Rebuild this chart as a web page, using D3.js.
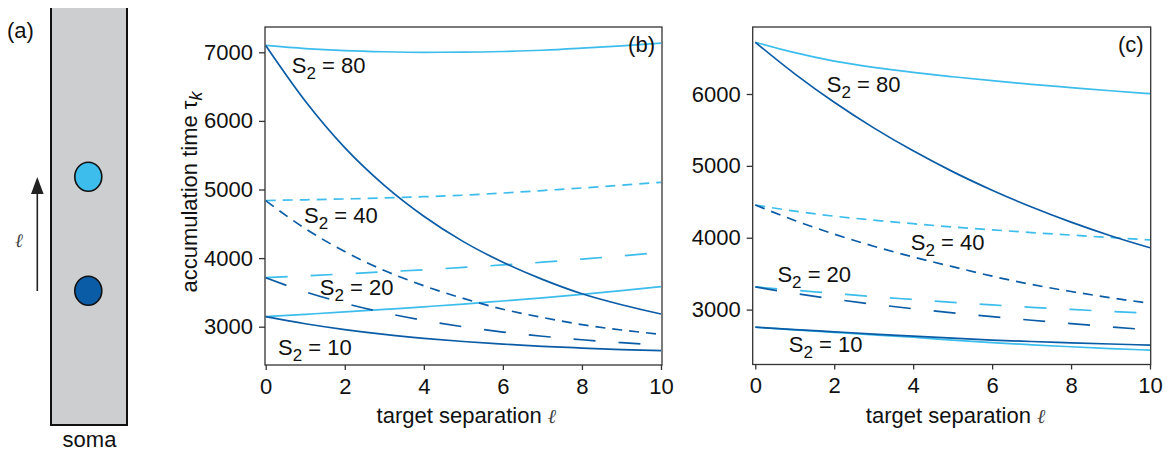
<!DOCTYPE html>
<html>
<head>
<meta charset="utf-8">
<script src="https://cdn.jsdelivr.net/npm/d3@7"></script>
<style>
  body { margin: 0; background: #fff; }
  text { font-family: "Liberation Sans", Arial, Helvetica, sans-serif; fill: #111; }
</style>
</head>
<body>
<svg id="fig" width="1165" height="451"></svg>
<script>
// target separation (x values shared by every curve)
const ells = [0, 1, 2, 3, 4, 5, 6, 7, 8, 9, 10];

// panel (b) accumulation time, light = far target, dark = near target
const b80Light = [7100, 7055, 7025, 7008, 7000, 7002, 7012, 7030, 7060, 7095, 7135];
const b80Dark  = [7100, 6290, 5610, 5060, 4610, 4240, 3940, 3690, 3480, 3320, 3185];
const b40Light = [4840, 4850, 4862, 4877, 4895, 4917, 4948, 4985, 5022, 5062, 5105];
const b40Dark  = [4837, 4430, 4095, 3820, 3597, 3412, 3255, 3135, 3030, 2952, 2889];
const b20Light = [3714, 3741, 3770, 3800, 3830, 3864, 3900, 3940, 3985, 4032, 4085];
const b20Dark  = [3714, 3509, 3342, 3204, 3091, 2998, 2922, 2861, 2810, 2767, 2733];
const b10Light = [3146, 3180, 3215, 3252, 3290, 3330, 3375, 3420, 3470, 3525, 3583];
const b10Dark  = [3146, 3043, 2958, 2888, 2831, 2784, 2746, 2714, 2689, 2667, 2650];

// panel (c)
const c80Light = [6720, 6575, 6457, 6370, 6300, 6240, 6185, 6135, 6090, 6045, 6005];
const c80Dark  = [6720, 6281, 5885, 5529, 5209, 4920, 4661, 4427, 4217, 4028, 3860];
const c40Light = [4455, 4370, 4300, 4245, 4195, 4150, 4110, 4072, 4037, 4003, 3970];
const c40Dark  = [4455, 4240, 4050, 3882, 3732, 3597, 3465, 3350, 3252, 3165, 3088];
const c20Light = [3315, 3270, 3225, 3180, 3140, 3100, 3065, 3032, 3002, 2975, 2950];
const c20Dark  = [3315, 3225, 3145, 3075, 3012, 2955, 2902, 2852, 2805, 2760, 2717];
const c10Light = [2755, 2718, 2683, 2648, 2615, 2575, 2540, 2510, 2483, 2458, 2436];
const c10Dark  = [2755, 2722, 2691, 2660, 2631, 2602, 2576, 2556, 2538, 2521, 2506];

const xTicks = [0, 2, 4, 6, 8, 10];
const bYTicks = [3000, 4000, 5000, 6000, 7000];
const cYTicks = [3000, 4000, 5000, 6000];

// S2 labels: [text value, ell, tau]
const bLabels = [["80", 0.66, 6698], ["40", 0.97, 4512], ["20", 1.37, 3462], ["10", 0.31, 2587]];
const cLabels = [["80", 1.81, 6032], ["40", 3.94, 3830], ["20", 0.56, 3387], ["10", 0.85, 2413]];

const LIGHT = "#3dbdec";
const DARK = "#0b5ca6";
const AXIS = "#333";
const SHORT = "10,7";
const LONG = "22,23";
const FS = "22px";

const svg = d3.select("#fig");

// ---- panel (a): schematic of the dendrite ----
const pa = svg.append("g").attr("class", "panel-a");
pa.append("rect").attr("x", 51).attr("y", 8).attr("width", 76).attr("height", 417).attr("fill", "#cdced0");
pa.append("path")
  .attr("d", "M51,8V425H127V8")
  .attr("fill", "none").attr("stroke", "#111").attr("stroke-width", 2);
pa.append("ellipse").attr("cx", 88.3).attr("cy", 176.7).attr("rx", 13.5).attr("ry", 14.5)
  .attr("fill", LIGHT).attr("stroke", "#111").attr("stroke-width", 1.6);
pa.append("ellipse").attr("cx", 88.3).attr("cy", 290.7).attr("rx", 13.5).attr("ry", 14.5)
  .attr("fill", DARK).attr("stroke", "#111").attr("stroke-width", 1.6);
pa.append("line").attr("x1", 37.3).attr("x2", 37.3).attr("y1", 291).attr("y2", 190)
  .attr("stroke", "#222").attr("stroke-width", 1.6);
pa.append("path").attr("d", "M37.3,177L31,194H43.6Z").attr("fill", "#222");
pa.append("text").attr("x", 19).attr("y", 247).attr("text-anchor", "middle")
  .style("font-family", "DejaVu Serif").style("font-style", "italic").style("font-size", "19px")
  .style("fill", "#444").text("ℓ");
pa.append("text").attr("x", 7).attr("y", 38).style("font-size", FS).text("(a)");
pa.append("text").attr("x", 89.5).attr("y", 447).attr("text-anchor", "middle")
  .style("font-size", FS).text("soma");

// ---- line panels ----
function drawPanel(cfg) {
  const g = svg.append("g").attr("class", "panel-" + cfg.name);
  const x = d3.scaleLinear().domain([0, 10]).range([cfg.x0, cfg.x1]);
  const y = d3.scaleLinear().domain(cfg.yDomain).range(cfg.yRange);

  const line = d3.line()
    .x((d, i) => x(ells[i]))
    .y((d) => y(d))
    .curve(d3.curveMonotoneX);

  const clipId = "clip-" + cfg.name;
  g.append("clipPath").attr("id", clipId).append("rect")
    .attr("x", cfg.left).attr("y", cfg.top)
    .attr("width", cfg.right - cfg.left).attr("height", cfg.bottom - cfg.top);

  g.append("g").attr("clip-path", `url(#${clipId})`)
    .selectAll("path.curve")
    .data(cfg.series)
    .join("path")
    .attr("class", "curve")
    .attr("d", (s) => line(s.values))
    .attr("fill", "none")
    .attr("stroke", (s) => s.color)
    .attr("stroke-width", 1.7)
    .attr("stroke-dasharray", (s) => s.dash);

  // frame
  g.append("rect")
    .attr("x", cfg.left).attr("y", cfg.top)
    .attr("width", cfg.right - cfg.left).attr("height", cfg.bottom - cfg.top)
    .attr("fill", "none").attr("stroke", AXIS).attr("stroke-width", 1.3);

  const yAxis = g.append("g")
    .attr("transform", `translate(${cfg.left},0)`)
    .call(d3.axisLeft(y).tickValues(cfg.yTicks).tickFormat(d3.format("d"))
      .tickSize(6).tickPadding(6).tickSizeOuter(0));
  const xAxis = g.append("g")
    .attr("transform", `translate(0,${cfg.bottom})`)
    .call(d3.axisBottom(x).tickValues(xTicks).tickFormat(d3.format("d"))
      .tickSize(5).tickPadding(8).tickSizeOuter(0));
  [xAxis, yAxis].forEach((a) => {
    a.select(".domain").remove();
    a.selectAll(".tick line").attr("stroke", AXIS).attr("stroke-width", 1.3);
    a.selectAll(".tick text")
      .style("font-family", '"Liberation Sans", Arial, sans-serif')
      .style("font-size", FS).attr("fill", "#111");
  });

  g.append("text")
    .attr("x", (cfg.x0 + cfg.x1) / 2 + 3).attr("y", 423)
    .attr("text-anchor", "middle").style("font-size", FS)
    .text("target separation ")
    .append("tspan")
    .style("font-family", "DejaVu Serif").style("font-style", "italic")
    .style("fill", "#444").style("font-size", "20px").text("ℓ");

  g.append("text")
    .attr("x", cfg.right - 7).attr("y", 52)
    .attr("text-anchor", "end").style("font-size", FS).text(cfg.tag);

  const lab = g.selectAll("text.s2").data(cfg.labels).join("text")
    .attr("class", "s2")
    .attr("x", (d) => x(d[1])).attr("y", (d) => y(d[2]))
    .style("font-size", FS);
  lab.append("tspan").text("S");
  lab.append("tspan").attr("dy", 6).style("font-size", "17px").text("2");
  lab.append("tspan").attr("dy", -6).text((d) => " = " + d[0]);

  return g;
}

drawPanel({
  name: "b", tag: "(b)",
  left: 265, right: 662, top: 27, bottom: 365,
  x0: 265.7, x1: 661,
  yDomain: [3000, 7000], yRange: [326.7, 52.3], yTicks: bYTicks,
  labels: bLabels,
  series: [
    { values: b80Light, color: LIGHT, dash: null },
    { values: b40Light, color: LIGHT, dash: SHORT },
    { values: b20Light, color: LIGHT, dash: LONG },
    { values: b10Light, color: LIGHT, dash: null },
    { values: b80Dark, color: DARK, dash: null },
    { values: b40Dark, color: DARK, dash: SHORT },
    { values: b20Dark, color: DARK, dash: LONG },
    { values: b10Dark, color: DARK, dash: null },
  ],
});

drawPanel({
  name: "c", tag: "(c)",
  left: 752.7, right: 1150.7, top: 27, bottom: 364.5,
  x0: 755.3, x1: 1150,
  yDomain: [3000, 6000], yRange: [309.6, 94], yTicks: cYTicks,
  labels: cLabels,
  series: [
    { values: c80Light, color: LIGHT, dash: null },
    { values: c40Light, color: LIGHT, dash: SHORT },
    { values: c20Light, color: LIGHT, dash: LONG },
    { values: c10Light, color: LIGHT, dash: null },
    { values: c80Dark, color: DARK, dash: null },
    { values: c40Dark, color: DARK, dash: SHORT },
    { values: c20Dark, color: DARK, dash: LONG },
    { values: c10Dark, color: DARK, dash: null },
  ],
});

// y axis title for panel (b)
const yt = svg.append("text")
  .attr("transform", "translate(197,192) rotate(-90)")
  .attr("text-anchor", "middle").style("font-size", FS);
yt.append("tspan").text("accumulation time τ");
yt.append("tspan").attr("dy", 5).style("font-style", "italic").style("font-size", "18px").text("k");
</script>
</body>
</html>
